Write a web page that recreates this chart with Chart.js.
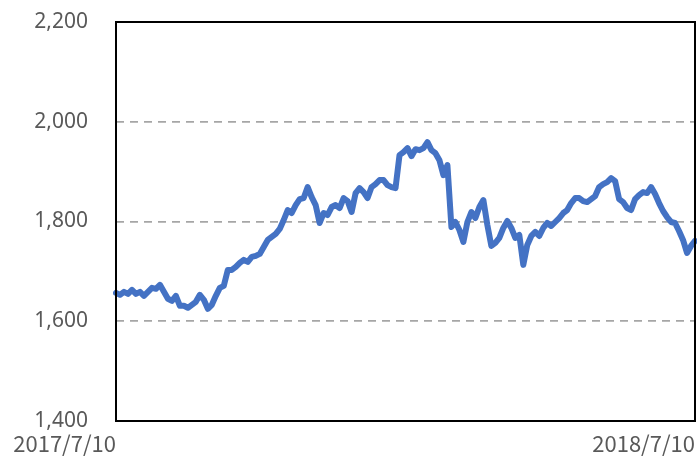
<!DOCTYPE html>
<html>
<head>
<meta charset="utf-8">
<script src="https://cdn.jsdelivr.net/npm/chart.js@4"></script>
<style>
  html, body { margin: 0; padding: 0; background: #fff; }
  #wrap { width: 697px; height: 458px; }
</style>
</head>
<body>
<div id="wrap"><canvas id="chart"></canvas></div>
<script>
// date labels shown on the x axis (first and last trading day)
const startDate = '2017/7/10';
const endDate = '2018/7/10';
const yTicks = [1400, 1600, 1800, 2000, 2200];

// index level
const values = [
  1657, 1653, 1659, 1655, 1663, 1655, 1659, 1651, 1659, 1667,
  1665, 1673, 1659, 1645, 1641, 1651, 1631, 1631, 1627, 1633,
  1639, 1653, 1643, 1625, 1633, 1651, 1667, 1671, 1703, 1703,
  1709, 1717, 1723, 1719, 1729, 1731, 1735, 1749, 1763, 1769,
  1775, 1785, 1803, 1823, 1817, 1833, 1845, 1847, 1869, 1849,
  1833, 1797, 1817, 1813, 1829, 1833, 1827, 1847, 1841, 1819,
  1857, 1867, 1859, 1847, 1869, 1875, 1883, 1883, 1873, 1869,
  1867, 1933, 1939, 1947, 1931, 1945, 1943, 1947, 1959, 1943,
  1937, 1923, 1893, 1913, 1789, 1799, 1783, 1759, 1799, 1819,
  1807, 1829, 1843, 1793, 1751, 1757, 1767, 1787, 1801, 1787,
  1767, 1773, 1713, 1753, 1771, 1779, 1771, 1787, 1797, 1791,
  1799, 1807, 1817, 1823, 1837, 1847, 1847, 1841, 1839, 1845,
  1851, 1869, 1875, 1879, 1887, 1881, 1845, 1839, 1827, 1823,
  1845, 1853, 1859, 1857, 1869, 1855, 1837, 1821, 1809, 1799,
  1797, 1781, 1763, 1737, 1751, 1761
];

const labels = values.map((v, i) => i === 0 ? startDate : (i === values.length - 1 ? endDate : ''));

// plot frame + the two date labels (right-aligned to the ends like the original)
const frameAndDates = {
  id: 'frameAndDates',
  afterDatasetsDraw(chart) {
    const { ctx, chartArea: a, scales: { x } } = chart;
    ctx.save();
    ctx.strokeStyle = '#000';
    ctx.lineWidth = 2;
    ctx.strokeRect(a.left, a.top, a.right - a.left, a.bottom - a.top);
    ctx.fillStyle = '#595959';
    ctx.font = '22px "Noto Sans CJK JP"';
    ctx.textAlign = 'right';
    ctx.textBaseline = 'middle';
    ctx.fillText(labels[0], x.getPixelForValue(0), 444);
    ctx.fillText(labels[labels.length - 1], x.getPixelForValue(labels.length - 1), 444);
    ctx.restore();
  }
};

new Chart(document.getElementById('chart'), {
  type: 'line',
  data: {
    labels: labels,
    datasets: [{
      data: values,
      borderColor: '#4472C4',
      borderWidth: 6,
      borderJoinStyle: 'round',
      borderCapStyle: 'round',
      pointRadius: 0,
      fill: false,
      tension: 0
    }]
  },
  options: {
    responsive: true, maintainAspectRatio: false, animation: false,
    layout: { padding: { left: 0, right: 2, top: 22, bottom: 37 } },
    plugins: { legend: { display: false }, tooltip: { enabled: false } },
    scales: {
      x: {
        grid: { display: false },
        border: { display: false },
        ticks: { display: false },
        afterFit: s => { s.height = 0; s.paddingLeft = 0; s.paddingRight = 0; }
      },
      y: {
        min: yTicks[0], max: yTicks[yTicks.length - 1],
        afterBuildTicks: s => { s.ticks = yTicks.map(v => ({ value: v })); },
        afterFit: s => { s.width = 116; s.paddingTop = 0; s.paddingBottom = 0; },
        border: { display: false, dash: [8, 6] },
        grid: {
          drawTicks: false,
          lineWidth: 1.8,
          color: c => (c.tick && (c.tick.value === yTicks[0] || c.tick.value === yTicks[yTicks.length - 1])) ? 'rgba(0,0,0,0)' : '#A6A6A6'
        },
        ticks: {
          padding: 28,
          color: '#595959',
          font: { family: '"Noto Sans", sans-serif', size: 21 },
          callback: v => v.toLocaleString('en-US')
        }
      }
    }
  },
  plugins: [frameAndDates]
});
</script>
</body>
</html>
